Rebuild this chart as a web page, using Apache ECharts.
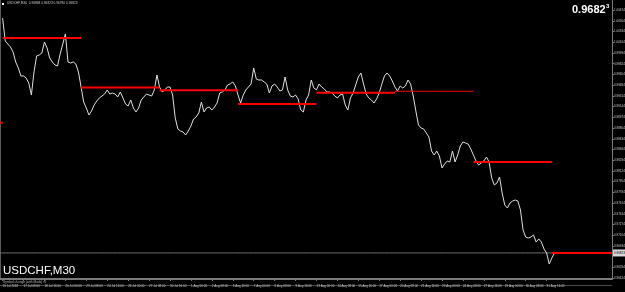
<!DOCTYPE html>
<html><head><meta charset="utf-8">
<script src="https://cdn.jsdelivr.net/npm/echarts@6/dist/echarts.min.js"></script>
<style>html,body{margin:0;padding:0;background:#000;}#c{width:625px;height:292px;}</style>
</head><body><div id="c"></div>
<script>
// USDCHF M30 closes, one sample every 8 bars (4 hours)
const prices = [null,
1.00549,1.00185,1.00137,1.00090,1.00010,0.99852,0.99757,0.99630,0.99630,0.99598,
0.99519,0.99328,0.99693,0.99947,0.99963,0.99994,1.00169,1.00074,0.99915,0.99852,
0.99804,0.99788,0.99979,1.00137,1.00296,0.99852,0.99836,0.99852,0.99820,0.99693,
0.99455,0.99217,0.99122,0.99011,0.99075,0.99170,0.99233,0.99281,0.99312,0.99344,
0.99408,0.99344,0.99360,0.99344,0.99297,0.99376,0.99281,0.99186,0.99154,0.99249,
0.99122,0.99059,0.99122,0.99249,0.99297,0.99344,0.99328,0.99312,0.99408,0.99646,
0.99455,0.99376,0.99408,0.99455,0.99455,0.99328,0.98964,0.98789,0.98757,0.98742,
0.98694,0.98757,0.98837,0.98948,0.98979,0.99043,0.99217,0.99059,0.99122,0.99138,
0.99090,0.99138,0.99201,0.99360,0.99376,0.99408,0.99487,0.99503,0.99535,0.99471,
0.99328,0.99201,0.99328,0.99408,0.99455,0.99503,0.99757,0.99582,0.99566,0.99566,
0.99535,0.99503,0.99360,0.99471,0.99503,0.99455,0.99392,0.99408,0.99614,0.99408,
0.99312,0.99297,0.99328,0.99265,0.99090,0.99059,0.99249,0.99328,0.99566,0.99439,
0.99408,0.99503,0.99455,0.99424,0.99376,0.99376,0.99360,0.99312,0.99281,0.99328,
0.99344,0.99170,0.99090,0.99281,0.99360,0.99487,0.99614,0.99677,0.99503,0.99344,
0.99281,0.99249,0.99201,0.99265,0.99360,0.99503,0.99630,0.99677,0.99630,0.99550,
0.99455,0.99392,0.99471,0.99439,0.99471,0.99566,0.99503,0.99312,0.99075,0.98853,
0.98805,0.98789,0.98726,0.98662,0.98440,0.98377,0.98440,0.98361,0.98171,0.98234,
0.98282,0.98266,0.98440,0.98266,0.98377,0.98519,0.98583,0.98567,0.98551,0.98472,
0.98377,0.98282,0.98218,0.98250,0.98282,0.98345,0.98266,0.98012,0.97901,0.97933,
0.98028,0.97774,0.97584,0.97536,0.97615,0.97647,0.97663,0.97647,0.97504,0.97187,
0.97076,0.97060,0.97076,0.97108,0.96997,0.97045,0.96997,0.96886,0.96822,0.96648,
0.96743,0.96823];

const timeLabels = ['16 Jul 2018','17 Jul 08:00','18 Jul 16:00','20 Jul 00:00','23 Jul 08:00',
'24 Jul 16:00','26 Jul 00:00','27 Jul 08:00','30 Jul 16:00','1 Aug 00:00','2 Aug 08:00',
'3 Aug 16:00','7 Aug 00:00','8 Aug 08:00','9 Aug 16:00','13 Aug 00:00','14 Aug 08:00',
'15 Aug 16:00','17 Aug 00:00','20 Aug 08:00','21 Aug 16:00','23 Aug 00:00','24 Aug 08:00',
'27 Aug 16:00','29 Aug 00:00','30 Aug 08:00','31 Aug 16:00'];

const priceTicks = [1.00674,1.00504,1.00334,1.00164,0.99994,0.99824,0.99654,0.99484,0.99314,
0.99144,0.98974,0.98804,0.98634,0.98464,0.98294,0.98124,0.97954,0.97784,0.97614,0.97444,
0.97274,0.97104,0.96934,0.96594,0.96424];

// horizontal levels (red), in category index units
const levelStart = [0, 1, 31, 61, 91, 121, 151, 181, 211];
const levelEnd   = [1, 31, 61, 91, 121, 151, 181, 211, 234];
const levelValue = [0.98889, 1.00232, 0.99447, 0.99403, 0.99186, 0.99365, 0.99387, 0.98266, 0.96822];
const levelThin  = [false, false, false, false, false, false, true, false, false];

const bid = 0.96823;
const ohlc = ['0.96868', '0.96823', '0.96780', '0.96823'];
const N = 235;

const categories = Array.from({length: N}, (_, i) =>
  ((i - 1) % 8 === 0 && timeLabels[(i - 1) / 8]) ? timeLabels[(i - 1) / 8] : '');

const levelSeries = levelValue.map((v, k) => {
  const d = new Array(N).fill(null);
  for (let i = levelStart[k]; i <= levelEnd[k]; i++) d[i] = v;
  return {
    type: 'line', data: d, showSymbol: false, silent: true, z: 4,
    lineStyle: {color: '#ff0000', width: levelThin[k] ? 1 : 2}
  };
});

const FONT = 'Liberation Sans, Arial, sans-serif';
const chart = echarts.init(document.getElementById('c'));
chart.setOption({
  backgroundColor: '#000000',
  animation: false,
  grid: {left: 0, right: 13, top: 0, bottom: 13, outerBoundsMode: 'none', containLabel: false},
  xAxis: {
    type: 'category', data: categories, boundaryGap: false,
    axisLine: {lineStyle: {color: '#7a7a7a', width: 2}},
    axisTick: {show: true, interval: (i) => categories[i] !== '', length: 2, lineStyle: {color: '#7a7a7a'}},
    axisLabel: {interval: (i) => categories[i] !== '', align: 'left', fontSize: 3, color: '#c8c8c8',
      margin: 6, fontFamily: FONT, hideOverlap: false},
    splitLine: {show: false}
  },
  yAxis: {
    type: 'value', position: 'right', min: 0.96410, max: 1.00835,
    axisLine: {show: true, lineStyle: {color: '#7a7a7a'}},
    axisTick: {show: true, customValues: priceTicks, length: 2, lineStyle: {color: '#7a7a7a'}},
    axisLabel: {customValues: priceTicks, formatter: (v) => v.toFixed(5), fontSize: 3,
      color: '#c8c8c8', margin: 2, fontFamily: FONT},
    splitLine: {show: false}
  },
  series: [{
    type: 'line', data: new Array(N).fill(bid), showSymbol: false, silent: true, z: 2,
    lineStyle: {color: '#6e6e6e', width: 1},
    endLabel: {show: true, formatter: bid.toFixed(5), backgroundColor: '#d8d8d8', color: '#000',
      fontSize: 3, padding: [2, 1], distance: 1, fontFamily: FONT}
  }, {
    type: 'line', data: prices, showSymbol: false, z: 3,
    lineStyle: {color: '#e0e0e0', width: 1}
  }].concat(levelSeries),
  graphic: [
    {type: 'line', shape: {x1: 0.5, y1: 0, x2: 0.5, y2: 279}, style: {stroke: '#5a5a5a', lineWidth: 1}, silent: true},
    {type: 'line', shape: {x1: 0, y1: 285.5, x2: 612, y2: 285.5}, style: {stroke: '#4a4a4a', lineWidth: 1}, silent: true},
    {type: 'rect', shape: {x: 2, y: 3, width: 2, height: 2}, style: {fill: '#ffffff'}, silent: true},
    {type: 'text', left: 7, top: 2, silent: true,
      style: {text: 'USDCHF,M30  ' + ohlc.join(' '), fill: '#c8c8c8', fontSize: 3.2, fontFamily: FONT}},
    {type: 'text', left: 572, top: 4, silent: true,
      style: {text: bid.toFixed(4), fill: '#ffffff', fontSize: 11, fontWeight: 'bold', fontFamily: FONT}},
    {type: 'text', left: 606, top: 3, silent: true,
      style: {text: bid.toFixed(5).slice(-1), fill: '#ffffff', fontSize: 6, fontWeight: 'bold', fontFamily: FONT}},
    {type: 'text', left: 3, top: 265, silent: true,
      style: {text: 'USDCHF,M30', fill: '#ffffff', fontSize: 11.5, fontFamily: FONT}},
    {type: 'text', left: 3, top: 280.5, silent: true,
      style: {text: 'Symbol change (with Mods) v1', fill: '#b0b0b0', fontSize: 3.2, fontFamily: FONT}}
  ]
});
</script>
</body></html>
